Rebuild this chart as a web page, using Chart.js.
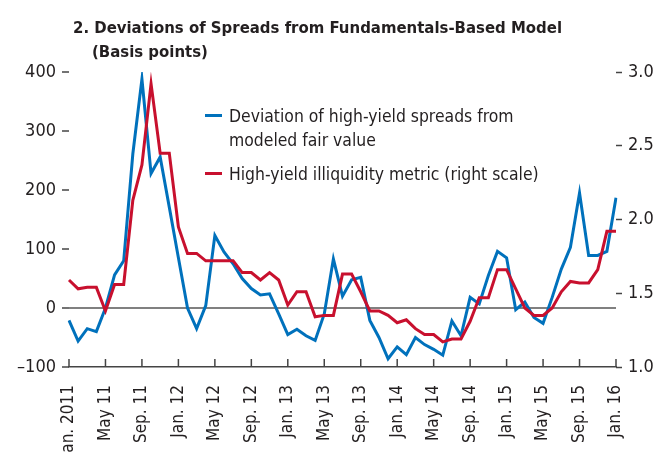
<!DOCTYPE html>
<html lang="en">
<head>
<meta charset="UTF-8">
<title>Deviations of Spreads from Fundamentals-Based Model</title>
<script src="https://cdn.jsdelivr.net/npm/chart.js"></script>
<style>
    body { margin: 0; background: #fff; }
    #wrap { position: relative; width: 658px; height: 453px; overflow: hidden;
            font-family: "Liberation Sans Narrow", "DejaVu Sans Condensed", sans-serif; color: #231f20; }
    #title { position: absolute; left: 73px; top: 16px; font-weight: bold; font-size: 16.6px; line-height: 23.5px; }
    #title .sub { padding-left: 19px; }
    .lg { position: absolute; left: 205px; font-size: 17.4px; line-height: 24px; }
    .lg .sw { position: absolute; left: 0; top: 10px; width: 17px; height: 3px; }
    .lg .tx { margin-left: 24px; white-space: nowrap; }
    canvas { position: absolute; left: 0; top: 0; }
</style>
</head>
<body>
<div id="wrap">
    <canvas id="myChart" width="658" height="453"></canvas>
    <div id="title">2. Deviations of Spreads from Fundamentals-Based Model<div class="sub">(Basis points)</div></div>
    <div class="lg" style="top:104px"><span class="sw" style="background:#0071bc"></span><div class="tx">Deviation of high-yield spreads from<br>modeled fair value</div></div>
    <div class="lg" style="top:162px"><span class="sw" style="background:#c8102e"></span><div class="tx">High-yield illiquidity metric (right scale)</div></div>
</div>
<script>
    // monthly, Jan. 2011 .. Jan. 2016
    const months = ['Jan.','Feb.','Mar.','Apr.','May','Jun.','Jul.','Aug.','Sep.','Oct.','Nov.','Dec.'];
    const labels = [];
    for (let y = 2011; y <= 2016; y++) {
        for (let m = 0; m < 12; m++) {
            if (y == 2016 && m > 0) break;
            labels.push(months[m] + ' ' + (y == 2011 && m == 0 ? '2011' : String(y).slice(2)));
        }
    }

    // deviation of high-yield spreads from modeled fair value (bp, left scale)
    const deviation = [
        -21, -56, -35, -40, 0, 56, 80, 261, 388, 228, 256, 171,
        85, 0, -35, 4, 123, 95, 75, 50, 33, 22, 24, -10,
        -45, -36, -47, -55, -10, 83, 20, 48, 52, -21, -50, -86,
        -66, -79, -50, -62, -70, -80, -22, -47, 18, 7, 55, 96,
        85, -3, 10, -16, -26, 18, 66, 103, 195, 89, 89, 96,
        187
    ];

    // high-yield illiquidity metric (right scale)
    const illiquidity = [
        1.59, 1.53, 1.54, 1.54, 1.38, 1.56, 1.56, 2.13, 2.37, 2.92, 2.45, 2.45,
        1.95, 1.77, 1.77, 1.72, 1.72, 1.72, 1.72, 1.64, 1.64, 1.59, 1.64, 1.59,
        1.42, 1.51, 1.51, 1.34, 1.35, 1.35, 1.63, 1.63, 1.51, 1.38, 1.38, 1.35,
        1.30, 1.32, 1.26, 1.22, 1.22, 1.17, 1.19, 1.19, 1.31, 1.47, 1.47, 1.66,
        1.66, 1.53, 1.40, 1.35, 1.35, 1.40, 1.51, 1.58, 1.57, 1.57, 1.66, 1.92,
        1.92
    ];

    const leftTicks = [-100, 0, 100, 200, 300, 400];
    const rightTicks = [1.0, 1.5, 2.0, 2.5, 3.0];

    const FONT = "'Liberation Sans Narrow', 'DejaVu Sans Condensed', sans-serif";
    const INK = '#231f20';

    // x tick marks point up into the plot
    const upTicks = {
        id: 'upTicks',
        afterDraw(chart) {
            const sc = chart.scales.x, c = chart.ctx;
            c.save();
            c.strokeStyle = '#444';
            c.lineWidth = 1.5;
            sc.ticks.forEach((t, i) => {
                if (t.label == null) return;
                const x = sc.getPixelForTick(i);
                c.beginPath();
                c.moveTo(x, sc.top);
                c.lineTo(x, sc.top - 8);
                c.stroke();
            });
            c.restore();
        }
    };

    new Chart(document.getElementById('myChart'), {
        type: 'line',
        data: {
            labels: labels,
            datasets: [{
                label: 'Deviation of high-yield spreads from modeled fair value',
                data: deviation,
                borderColor: '#0071bc',
                borderWidth: 3,
                yAxisID: 'y',
                order: 2
            }, {
                label: 'High-yield illiquidity metric (right scale)',
                data: illiquidity,
                borderColor: '#c8102e',
                borderWidth: 3,
                yAxisID: 'y1',
                order: 1
            }]
        },
        options: {
            responsive: false,
            animation: false,
            layout: { padding: { top: 72, left: 0, right: 0, bottom: 0 } },
            elements: { point: { radius: 0 }, line: { tension: 0 } },
            plugins: { legend: { display: false }, tooltip: { enabled: false } },
            scales: {
                x: {
                    afterFit: s => { s.height = 86; },
                    grid: { display: false },
                    border: { display: true, color: '#444', width: 1.5 },
                    ticks: {
                        autoSkip: false, minRotation: 90, maxRotation: 90, padding: 10,
                        color: INK, font: { family: FONT, size: 17 },
                        callback: (v, i) => i % 4 == 0 ? labels[i] : null
                    }
                },
                y: {
                    position: 'left',
                    min: -100, max: 400,
                    afterFit: s => { s.width = 69; },
                    afterBuildTicks: s => { s.ticks = leftTicks.map(v => ({ value: v })); },
                    border: { display: false },
                    grid: {
                        drawOnChartArea: true, drawTicks: true, tickLength: 7,
                        color: ctx => ctx.tick && ctx.tick.value === 0 ? '#808080' : 'rgba(0,0,0,0)',
                        lineWidth: 2, tickColor: '#444', tickWidth: 1.5
                    },
                    ticks: {
                        padding: 6, color: INK, font: { family: FONT, size: 18 },
                        callback: v => v < 0 ? '\u2013' + Math.abs(v) : v
                    }
                },
                y1: {
                    position: 'right',
                    min: 1.0, max: 3.0,
                    afterFit: s => { s.width = 42; },
                    afterBuildTicks: s => { s.ticks = rightTicks.map(v => ({ value: v })); },
                    border: { display: false },
                    grid: { drawOnChartArea: false, drawTicks: true, tickLength: 6, tickColor: '#444', tickWidth: 1.5 },
                    ticks: {
                        padding: 6, color: INK, font: { family: FONT, size: 18 },
                        callback: v => v.toFixed(1)
                    }
                }
            }
        },
        plugins: [upTicks]
    });
</script>
</body>
</html>
